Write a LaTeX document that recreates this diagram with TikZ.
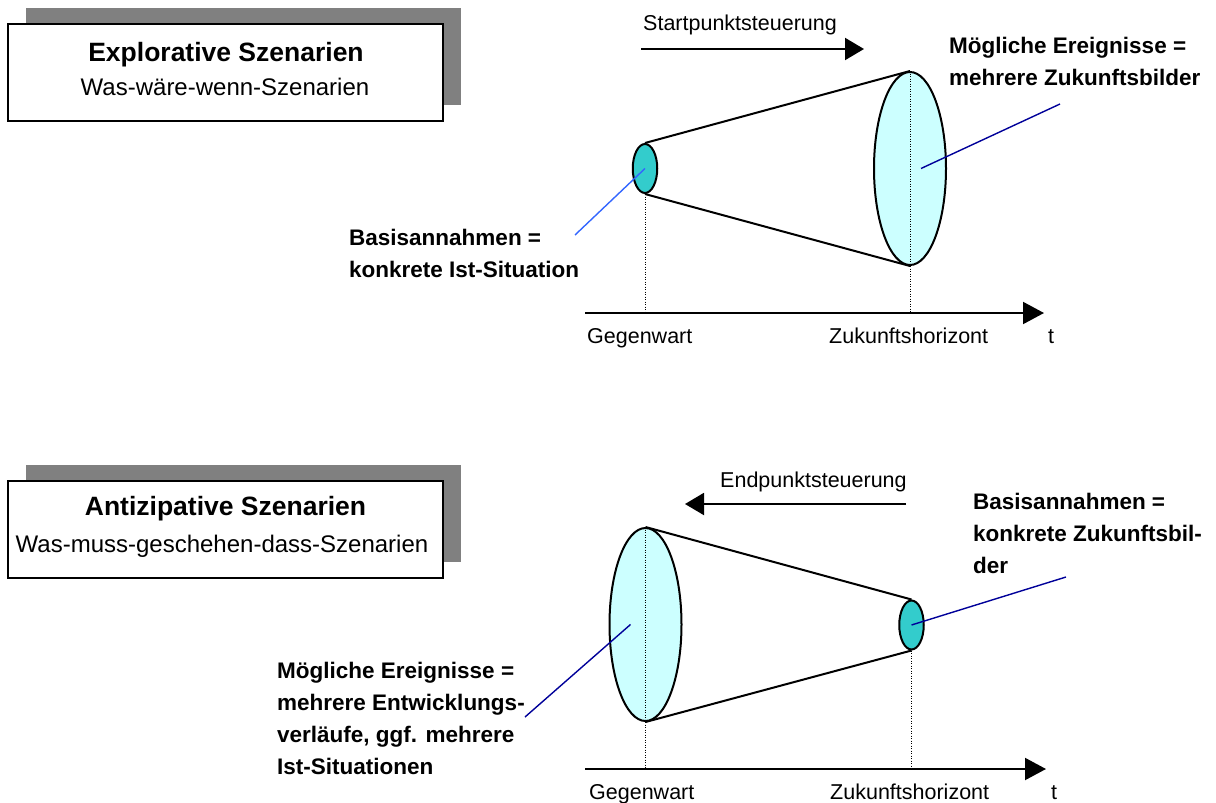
\documentclass[tikz,border=0pt]{standalone}
\usepackage{fontspec}
\setmainfont{Liberation Sans}
\usetikzlibrary{arrows.meta,shapes.geometric,shadows,positioning}
\definecolor{discteal}{HTML}{33CCCC}
\definecolor{disccyan}{HTML}{CCFFFF}
\definecolor{shadowgray}{HTML}{808080}
\definecolor{pointblue}{HTML}{3366FF}
\definecolor{pointnavy}{HTML}{000099}

\begin{document}
\begin{tikzpicture}[x=1pt,y=-1pt,
    titlebox/.style={draw, line width=1.8pt, fill=white, minimum width=435pt, minimum height=97pt, inner sep=0pt,
        general shadow={fill=shadowgray, shadow xshift=18pt, shadow yshift=16pt}},
    headtext/.style={font=\fontsize{26.5}{30}\selectfont\bfseries, anchor=base, inner sep=0pt},
    subtext/.style={font=\fontsize{24}{30}\selectfont, anchor=base, inner sep=0pt},
    axistext/.style={font=\fontsize{21.5}{26}\selectfont, anchor=base west, inner sep=0pt},
    notetext/.style={font=\fontsize{22.5}{32}\selectfont\bfseries, anchor=base west, align=left, inner sep=0pt},
    smalldisc/.style={ellipse, draw, line width=2pt, fill=discteal, minimum width=24.5pt, minimum height=49pt, inner sep=0pt},
    largedisc/.style={ellipse, draw, line width=2pt, fill=disccyan, minimum width=72pt, minimum height=193pt, inner sep=0pt},
    coneline/.style={line width=2pt},
    timeaxis/.style={line width=2pt, -{Triangle[length=21pt, width=22pt]}},
    steerarrow/.style={line width=2pt, -{Triangle[length=19pt, width=22pt]}},
    guide/.style={line width=1pt, dash pattern=on 1pt off 1.5pt},
    pointer/.style={line width=1.4pt}]
    \useasboundingbox (0,0) rectangle (1216,803);

    \node[titlebox] (expbox) at (225.5,72.5) {};
    \node[headtext] (exphead) at (226,61) {Explorative Szenarien};
    \node[subtext] (expsub) at (225,95) {Was-wäre-wenn-Szenarien};

    \node[smalldisc] (startdisc) at (645,168.5) {};
    \node[largedisc] (futuredisc) at (910,168.5) {};
    \draw[coneline] (startdisc.north) -- (futuredisc.north)
                    (startdisc.south) -- (futuredisc.south);
    \coordinate (axisAstart) at (585,313);
    \coordinate (axisAend) at (1044,313);
    \draw[timeaxis] (axisAstart) -- (axisAend);
    \draw[guide] (startdisc.south) -- (startdisc.south |- axisAstart);
    \draw[guide] (futuredisc.north) -- (futuredisc.north |- axisAstart);
    \node[axistext] (nowA) at (587,343) {Gegenwart};
    \node[axistext] (horizonA) at (829,343) {Zukunftshorizont};
    \node[axistext] (timeA) at (1048,343) {t};

    \node[axistext] (startlabel) at (643,30) {Startpunktsteuerung};
    \coordinate (startfrom) at (641,49);
    \coordinate (startto) at (864,49);
    \draw[steerarrow] (startfrom) -- (startto);

    \node[notetext] (eventsA) at (949,85) {Mögliche Ereignisse =\\mehrere Zukunftsbilder};
    \coordinate (eventsAtip) at (1060,104);
    \draw[pointer, pointnavy] (eventsAtip) -- ([xshift=11pt]futuredisc.center);
    \node[notetext] (basisA) at (349,277) {Basisannahmen =\\konkrete Ist-Situation};
    \coordinate (basisAtip) at (575,235);
    \draw[pointer, pointblue] (basisAtip) -- (startdisc.center);

    \node[titlebox] (antbox) at (225.5,529.5) {};
    \node[headtext] (anthead) at (225.5,515) {Antizipative Szenarien};
    \node[subtext] (antsub) at (222,552) {Was-muss-geschehen-dass-Szenarien};

    \node[largedisc] (presentdisc) at (645.5,624.5) {};
    \node[smalldisc] (enddisc) at (911.5,625) {};
    \draw[coneline] (presentdisc.north) -- (enddisc.north)
                    (presentdisc.south) -- (enddisc.south);
    \coordinate (axisBstart) at (585,769);
    \coordinate (axisBend) at (1046,769);
    \draw[timeaxis] (axisBstart) -- (axisBend);
    \draw[guide] (presentdisc.north) -- (presentdisc.north |- axisBstart);
    \draw[guide] (enddisc.south) -- (enddisc.south |- axisBstart);
    \node[axistext] (nowB) at (589,799) {Gegenwart};
    \node[axistext] (horizonB) at (830,799) {Zukunftshorizont};
    \node[axistext] (timeB) at (1051,799) {t};

    \node[axistext] (endlabel) at (720,487) {Endpunktsteuerung};
    \coordinate (endfrom) at (906,504);
    \coordinate (endto) at (685,504);
    \draw[steerarrow] (endfrom) -- (endto);

    \node[notetext] (basisB) at (973,573) {Basisannahmen =\\konkrete Zukunftsbil-\\der};
    \coordinate (basisBtip) at (1066,577);
    \draw[pointer, pointnavy] (basisBtip) -- (enddisc.center);
    \node[notetext] (eventsB) at (277,774) {Mögliche Ereignisse =\\mehrere Entwicklungs-\\verläufe, ggf. mehrere\\Ist-Situationen};
    \coordinate (eventsBtip) at (525,717);
    \draw[pointer, pointnavy] (eventsBtip) -- ([xshift=-15pt]presentdisc.center);
\end{tikzpicture}
\end{document}
